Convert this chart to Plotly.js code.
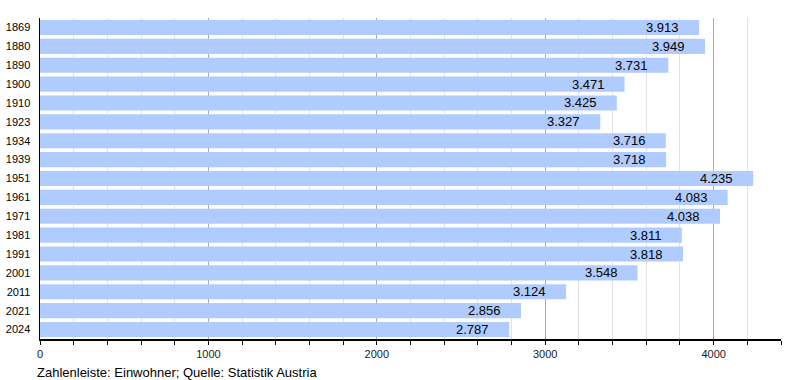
<!DOCTYPE html>
<html><head><meta charset="utf-8">
<script src="https://cdn.plot.ly/plotly-3.0.1.min.js"></script>
<style>body{margin:0;padding:0;background:#fff}#c{width:800px;height:380px}</style>
</head><body><div id="c"></div>
<script>
const years = ["1869","1880","1890","1900","1910","1923","1934","1939","1951","1961","1971","1981","1991","2001","2011","2021","2024"];
const population = [3913,3949,3731,3471,3425,3327,3716,3718,4235,4083,4038,3811,3818,3548,3124,2856,2787];
const xTicks = [0,1000,2000,3000,4000];

function fmt(v){ return String(v).replace(/\B(?=(\d{3})+(?!\d))/g, "."); }
const idx = years.map((_,i)=>i);

const trace = {
  type: "bar", orientation: "h",
  x: population, y: idx,
  marker: {color: "#b0ccff", line: {width: 0}},
  width: 0.8, hoverinfo: "none"
};
const annotations = years.map((y,i)=>({
  x: population[i], y: i, xref: "x", yref: "y",
  text: fmt(population[i]), showarrow: false,
  xanchor: "right", xshift: -18, yshift: 0,
  font: {family: "Liberation Sans, Arial, sans-serif", size: 13, color: "#000"}
}));
annotations.push({
  xref: "paper", yref: "paper", x: -0.007, y: -0.075, xanchor: "left", yanchor: "top",
  text: "Zahlenleiste: Einwohner; Quelle: Statistik Austria", showarrow: false,
  font: {family: "Liberation Sans, Arial, sans-serif", size: 13, color: "#000"}
});
const layout = {
  width: 800, height: 380,
  margin: {l: 40, r: 19, t: 18, b: 41},
  paper_bgcolor: "#fff", plot_bgcolor: "#fff",
  showlegend: false,
  font: {family: "Liberation Sans, Arial, sans-serif", size: 11, color: "#000"},
  xaxis: {
    type: "linear",
    range: [0, 4400], tickvals: xTicks, ticktext: xTicks.map(String),
    showgrid: true, gridcolor: "#aaaaaa", gridwidth: 1,
    zeroline: false, showline: true, linecolor: "#000", linewidth: 1.5,
    ticks: "outside", ticklen: 4, tickcolor: "#000",
    tickfont: {size: 11, color: "#222"},
    minor: {tickvals: [200,400,600,800,1200,1400,1600,1800,2200,2400,2600,2800,3200,3400,3600,3800,4200,4400], showgrid: true, gridcolor: "#e2e2e2", ticks: "outside", ticklen: 4, tickcolor: "#000"},
    fixedrange: true
  },
  yaxis: {
    type: "linear", range: [years.length - 0.5, -0.5],
    tickmode: "array", tickvals: idx, ticktext: years,
    showgrid: false, zeroline: false, showline: true, linecolor: "#000", linewidth: 1.5,
    ticks: "", ticklabelstandoff: 6,
    tickfont: {size: 11, color: "#000"}, fixedrange: true
  },
  annotations: annotations
};
Plotly.newPlot("c", [trace], layout, {staticPlot: true, displayModeBar: false});
</script></body></html>
